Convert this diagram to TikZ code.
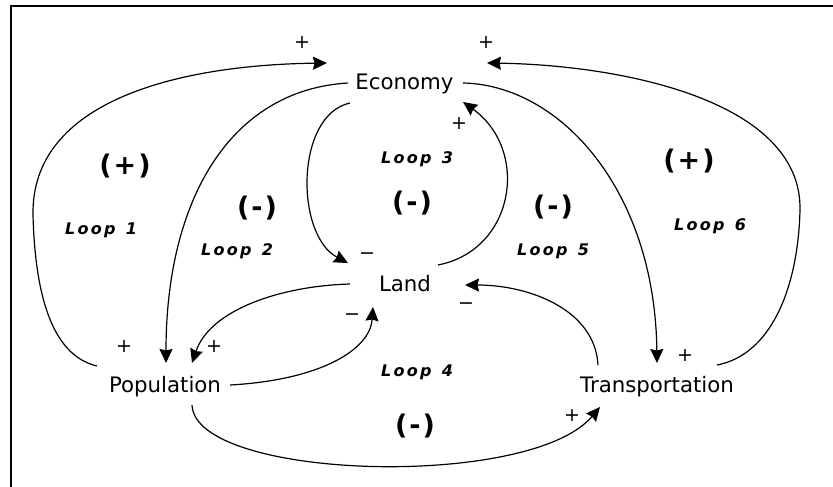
\documentclass[tikz,border=0pt]{standalone}
\usepackage{fontspec}
\setmainfont{DejaVu Sans}
\newcommand\lsp{\kern2.3pt\relax}
\newcommand\psp{\kern2pt\relax}
\usetikzlibrary{arrows.meta}
\begin{document}
\begin{tikzpicture}[x=1pt,y=-1pt,
  var/.style={font=\fontsize{21.3}{24}\selectfont, inner sep=0pt, anchor=base},
  sgn/.style={font=\fontsize{19}{22}\selectfont, inner sep=0pt, anchor=base},
  pol/.style={font=\fontsize{27}{32}\selectfont\bfseries, inner sep=0pt, anchor=base},
  looplbl/.style={font=\fontsize{16}{19}\selectfont\bfseries\itshape, inner sep=0pt, anchor=base},
  link/.style={line width=1.2pt, -{Stealth[length=14pt,width=13pt,inset=1.5pt]}},
  frame/.style={line width=1.5pt}]
\useasboundingbox (0,0) rectangle (833,487);
\draw[frame] (11,487) -- (11,6) -- (833,6);

% variables
\node[var] (eco) at (404.5,89) {Economy};
\node[var] (land) at (405,291) {Land};
\node[var] (pop) at (165,392) {Population};
\node[var] (tra) at (657,392) {Transportation};

% connectors
% loop 1: Population -> Economy
\draw[link] ([shift={(-68,-26)}]pop.base) .. controls (50,355) and (35,290) .. (33,215)
  .. controls (31,100) and (180,65) .. ([shift={(-77.5,-26)}]eco.base);
% Economy -> Population
\draw[link] ([shift={(-56.5,-6)}]eco.base) .. controls (230,90) and (166,200) .. ([shift={(1,-29)}]pop.base);
% Economy -> Land
\draw[link] ([shift={(-54.5,14)}]eco.base) .. controls (295,115) and (295,235) .. ([shift={(-57,-28)}]land.base);
% Land -> Economy
\draw[link] ([shift={(33,-26)}]land.base) .. controls (515,250) and (530,150) .. ([shift={(58.5,13)}]eco.base);
% Economy -> Transportation
\draw[link] ([shift={(58.5,-6)}]eco.base) .. controls (560,85) and (655,190) .. ([shift={(0,-29)}]tra.base);
% loop 6: Transportation -> Economy
\draw[link] ([shift={(60,-27)}]tra.base) .. controls (770,355) and (798,290) .. (800,210)
  .. controls (802,100) and (620,65) .. ([shift={(82.5,-26)}]eco.base);
% Land -> Population
\draw[link] ([shift={(-55,-7)}]land.base) .. controls (280,286) and (210,310) .. ([shift={(27,-29)}]pop.base);
% Population -> Land
\draw[link] ([shift={(65,-7)}]pop.base) .. controls (320,380) and (370,350) .. ([shift={(-32,16)}]land.base);
% Transportation -> Land
\draw[link] ([shift={(-59,-27)}]tra.base) .. controls (595,310) and (530,285) .. ([shift={(60,-6)}]land.base);
% Population -> Transportation
\draw[link] ([shift={(27,13)}]pop.base) .. controls (195,480) and (530,490) .. ([shift={(-57,15)}]tra.base);

% link signs
\node[sgn] (s1) at (302,49) {+};
\node[sgn] (s2) at (486,49) {+};
\node[sgn] (s3) at (459,129) {+};
\node[sgn] (s4) at (367,259) {−};
\node[sgn] (s5) at (352,320) {−};
\node[sgn] (s6) at (466,309) {−};
\node[sgn] (s7) at (124,352) {+};
\node[sgn] (s8) at (214,352) {+};
\node[sgn] (s9) at (685,361) {+};
\node[sgn] (s10) at (572,421) {+};

% loop polarities
\node[pol] (p1) at (125,174) {(\psp+\psp)};
\node[pol] (p2) at (257,216) {(\psp-\psp)};
\node[pol] (p3) at (412,211) {(\psp-\psp)};
\node[pol] (p4) at (415,434) {(\psp-\psp)};
\node[pol] (p5) at (553,215) {(\psp-\psp)};
\node[pol] (p6) at (689,169) {(\psp+\psp)};

% loop names
\node[looplbl] (l1) at (101,234) {L\lsp o\lsp o\lsp p\lsp\ \lsp 1};
\node[looplbl] (l2) at (237,255) {L\lsp o\lsp o\lsp p\lsp\ \lsp 2};
\node[looplbl] (l3) at (417,163) {L\lsp o\lsp o\lsp p\lsp\ \lsp 3};
\node[looplbl] (l4) at (417,376) {L\lsp o\lsp o\lsp p\lsp\ \lsp 4};
\node[looplbl] (l5) at (553,255) {L\lsp o\lsp o\lsp p\lsp\ \lsp 5};
\node[looplbl] (l6) at (710,230) {L\lsp o\lsp o\lsp p\lsp\ \lsp 6};
\end{tikzpicture}
\end{document}
